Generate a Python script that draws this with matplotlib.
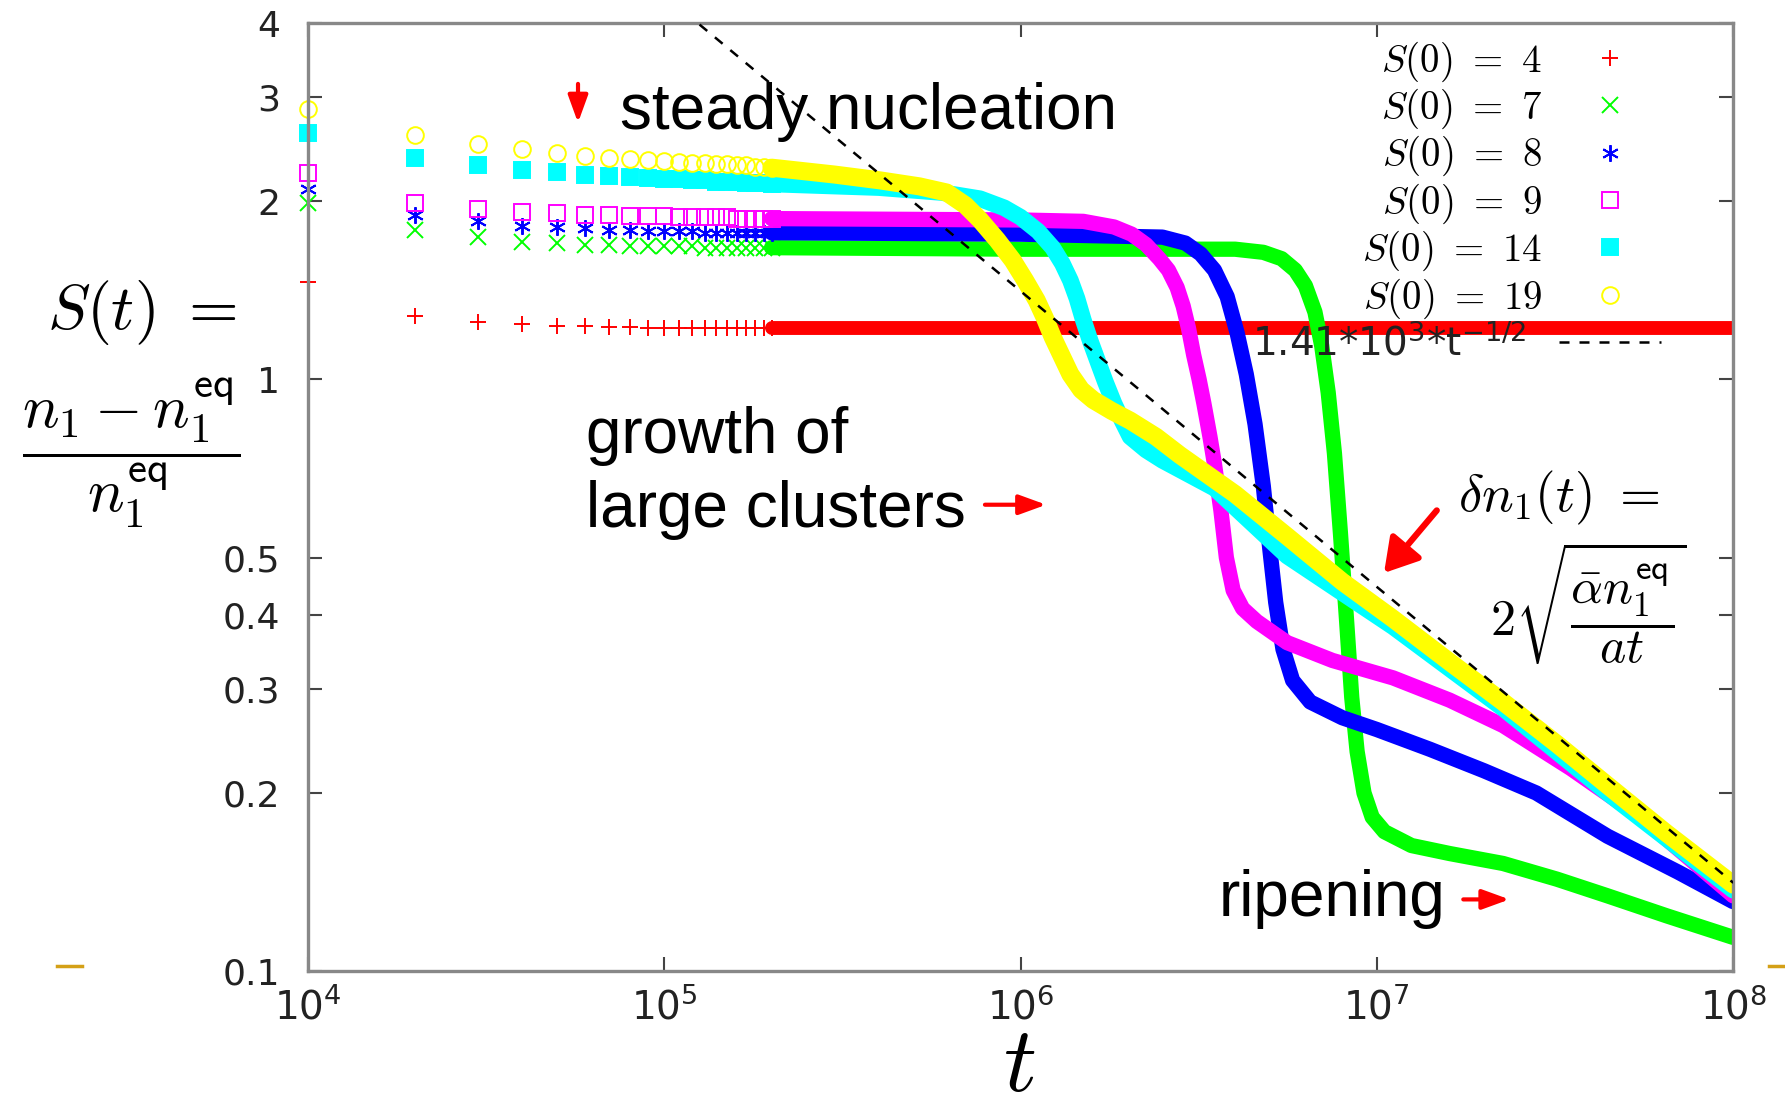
import numpy as np
import matplotlib
matplotlib.use('Agg')
import matplotlib.pyplot as plt
from matplotlib.lines import Line2D

plt.rcParams['mathtext.fontset'] = 'cm'
SANS = ['Liberation Sans', 'DejaVu Sans']

# early, still separable markers: t = 1e4, 2e4, ... 2e5
t_early = [1e4, 2e4, 3e4, 4e4, 5e4, 6e4, 7e4, 8e4, 9e4, 1e5,
           1.1e5, 1.2e5, 1.3e5, 1.4e5, 1.5e5, 1.6e5, 1.7e5, 1.8e5, 1.9e5, 2e5]

s4_early = [1.46, 1.28, 1.25, 1.24, 1.23, 1.23, 1.225, 1.225, 1.22, 1.22,
            1.22, 1.22, 1.22, 1.22, 1.22, 1.22, 1.22, 1.22, 1.22, 1.22]
s7_early = [1.99, 1.79, 1.74, 1.71, 1.70, 1.69, 1.69, 1.68, 1.68, 1.68,
            1.68, 1.68, 1.67, 1.67, 1.67, 1.67, 1.67, 1.67, 1.67, 1.67]
s8_early = [2.10, 1.90, 1.85, 1.82, 1.81, 1.80, 1.79, 1.79, 1.78, 1.78,
            1.78, 1.78, 1.77, 1.77, 1.77, 1.77, 1.77, 1.77, 1.77, 1.77]
s9_early = [2.23, 1.99, 1.94, 1.92, 1.91, 1.90, 1.90, 1.89, 1.89, 1.89,
            1.88, 1.88, 1.88, 1.88, 1.88, 1.87, 1.87, 1.87, 1.87, 1.87]
s14_early = [2.61, 2.37, 2.30, 2.26, 2.24, 2.22, 2.21, 2.20, 2.19, 2.18,
             2.18, 2.17, 2.17, 2.16, 2.16, 2.16, 2.15, 2.15, 2.15, 2.14]
s19_early = [2.87, 2.59, 2.50, 2.45, 2.41, 2.39, 2.37, 2.36, 2.35, 2.34,
             2.33, 2.32, 2.32, 2.31, 2.31, 2.30, 2.30, 2.29, 2.29, 2.28]

# dense part (markers merge into a band)
t4 = [2e5, 1e6, 1e7, 1e8]
s4 = [1.22, 1.22, 1.22, 1.22]

t7 = [2e5, 1e6, 4e6, 4.8e6, 5.4e6, 5.9e6, 6.3e6, 6.7e6, 7.0e6, 7.3e6,
      7.6e6, 7.9e6, 8.2e6, 8.5e6, 8.8e6, 9.2e6, 9.7e6, 1.05e7, 1.25e7, 1.6e7,
      2.26e7, 3.2e7, 4.44e7, 6.5e7, 1e8]
s7 = [1.67, 1.66, 1.66, 1.64, 1.60, 1.53, 1.44, 1.30, 1.14, 0.95,
      0.75, 0.55, 0.40, 0.29, 0.235, 0.20, 0.182, 0.172, 0.163, 0.158,
      0.152, 0.143, 0.134, 0.124, 0.114]

t8 = [2e5, 1e6, 2.5e6, 2.9e6, 3.2e6, 3.5e6, 3.8e6, 4.05e6, 4.3e6, 4.55e6,
      4.8e6, 5.0e6, 5.2e6, 5.45e6, 5.8e6, 6.5e6, 8.0e6, 1.0e7, 1.41e7, 2.0e7,
      2.8e7, 4.44e7, 7e7, 1e8]
s8 = [1.77, 1.76, 1.74, 1.70, 1.63, 1.53, 1.38, 1.20, 1.02, 0.84,
      0.66, 0.52, 0.42, 0.35, 0.31, 0.285, 0.268, 0.256, 0.237, 0.218,
      0.2, 0.169, 0.147, 0.131]

t9 = [2e5, 1e6, 1.5e6, 1.83e6, 2.05e6, 2.25e6, 2.45e6, 2.6e6, 2.75e6, 2.86e6,
      2.96e6, 3.06e6, 3.17e6, 3.27e6, 3.4e6, 3.5e6, 3.65e6, 3.78e6, 3.95e6, 4.2e6,
      4.6e6, 5.6e6, 7.5e6, 1.11e7, 1.6e7, 2.26e7, 3.5e7, 5.5e7, 1e8]
s9 = [1.87, 1.86, 1.85, 1.81, 1.76, 1.69, 1.60, 1.53, 1.43, 1.33,
      1.22, 1.10, 1.0, 0.91, 0.80, 0.72, 0.60, 0.50, 0.44, 0.41,
      0.39, 0.359, 0.335, 0.313, 0.287, 0.26, 0.22, 0.182, 0.134]

t14 = [2e5, 4e5, 6e5, 7.7e5, 9e5, 1.0e6, 1.12e6, 1.23e6, 1.31e6, 1.38e6,
       1.44e6, 1.5e6, 1.57e6, 1.64e6, 1.73e6, 1.83e6, 1.93e6, 2.03e6, 2.25e6, 2.5e6,
       3.5e6, 5.6e6, 1.11e7, 2.26e7, 4.44e7, 1e8]
s14 = [2.14, 2.11, 2.07, 2.02, 1.95, 1.88, 1.78, 1.67, 1.57, 1.47,
       1.37, 1.26, 1.16, 1.08, 0.99, 0.91, 0.85, 0.80, 0.76, 0.73,
       0.655, 0.503, 0.382, 0.278, 0.2, 0.137]

t19 = [2e5, 3e5, 4.03e5, 5.2e5, 6.2e5, 7e5, 7.7e5, 8.6e5, 9.5e5, 1.03e6,
       1.11e6, 1.17e6, 1.23e6, 1.3e6, 1.38e6, 1.48e6, 1.6e6, 1.8e6, 2.03e6, 2.4e6,
       2.8e6, 4e6, 5.6e6, 8e6, 1.11e7, 1.6e7, 2.26e7, 3.2e7, 4.44e7, 6.5e7, 1e8]
s19 = [2.28, 2.22, 2.17, 2.12, 2.07, 1.97, 1.86, 1.72, 1.59, 1.47,
       1.36, 1.27, 1.18, 1.10, 1.02, 0.96, 0.923, 0.885, 0.852, 0.80,
       0.745, 0.64, 0.543, 0.455, 0.394, 0.333, 0.285, 0.242, 0.206, 0.171, 0.14]

# fit 1.41*10^3*t^-1/2, end points
t_fit = [1e5, 1e8]
s_fit = [4.46, 0.141]

labels = [r'$S(0)\ =\ 4$', r'$S(0)\ =\ 7$', r'$S(0)\ =\ 8$',
          r'$S(0)\ =\ 9$', r'$S(0)\ =\ 14$', r'$S(0)\ =\ 19$']
fit_label = r'1.41*10$^{3}$*t$^{-1/2}$  '

y_ticks = [0.1, 0.2, 0.3, 0.4, 0.5, 1, 2, 3, 4]
y_tick_labels = ['0.1', '0.2', '0.3', '0.4', '0.5', '1', '2', '3', '4']
x_ticks = [1e4, 1e5, 1e6, 1e7, 1e8]
x_tick_labels = [r'$\mathdefault{10^{4}}$', r'$\mathdefault{10^{5}}$', r'$\mathdefault{10^{6}}$',
                 r'$\mathdefault{10^{7}}$', r'$\mathdefault{10^{8}}$']

early = [s4_early, s7_early, s8_early, s9_early, s14_early, s19_early]
bands = [(t4, s4), (t7, s7), (t8, s8), (t9, s9), (t14, s14), (t19, s19)]
colors = ['#ff0000', '#00ff00', '#0000ff', '#ff00ff', '#00ffff', '#ffff00']
markers = ['+', 'x', (6, 2, 0), 's', 's', 'o']
filled = [True, True, True, False, True, False]
band_lw = [10, 11, 11, 11, 12, 13]

fig = plt.figure(figsize=(17.85, 11.06), dpi=100)
ax = fig.add_axes([0.1725, 0.122, 0.7985, 0.857])

for i in range(6):
    c = colors[i]
    tb, sb = bands[i]
    ax.plot(tb, sb, '-', color=c, lw=band_lw[i], solid_capstyle='round',
            solid_joinstyle='round', zorder=2 + i * 0.1)
    ax.plot(t_early, early[i], ls='none', marker=markers[i], ms=12, mew=1.4,
            mec=c, mfc=c if filled[i] else 'none', zorder=2 + i * 0.1, clip_on=False)

ax.plot(t_fit, s_fit, color='black', lw=1.8, dashes=(4, 4), zorder=5)

ax.set_xscale('log')
ax.set_yscale('log')
ax.set_xlim(1e4, 1e8)
ax.set_ylim(0.1, 4)
ax.set_xticks(x_ticks)
ax.set_xticklabels(x_tick_labels)
ax.set_yticks(y_ticks)
ax.set_yticklabels(y_tick_labels)
ax.minorticks_off()
ax.tick_params(axis='both', which='major', direction='in', length=10, width=1.5,
               color='#444444', labelcolor='#222222', top=True, right=True)
ax.tick_params(axis='y', pad=20, labelsize=26)
ax.tick_params(axis='x', pad=12, labelsize=28)
for sp in ax.spines.values():
    sp.set_color('#888888')
    sp.set_linewidth(2.4)

# legend, gnuplot style: label on the left, sample on the right
handles = []
for i in range(6):
    handles.append(Line2D([], [], ls='none', marker=markers[i], ms=12, mew=1.4,
                          mec=colors[i], mfc=colors[i] if filled[i] else 'none'))
handles.append(Line2D([], [], color='black', lw=1.8, dashes=(4, 4)))
leg = ax.legend(handles, labels + [fit_label], loc='upper right',
                bbox_to_anchor=(0.949, 0.983), frameon=False, markerfirst=False,
                fontsize=28, handlelength=2.6, handletextpad=0.45,
                labelspacing=0.08, borderpad=0, borderaxespad=0)
leg.set_zorder(6)
fit_txt = leg.get_texts()[6]
fit_txt.set_fontsize(28)
fit_txt.set_math_fontfamily('dejavusans')
fit_txt.set_color('#222222')

# annotations
arrow_kw = dict(arrowstyle='-|>, head_length=0.55, head_width=0.2', color='red',
                lw=3.0, mutation_scale=30, shrinkA=0, shrinkB=0)
ax.annotate('', xy=(0.1895, 0.895), xytext=(0.1895, 0.936), xycoords='axes fraction',
            arrowprops=arrow_kw)
ax.text(0.219, 0.888, 'steady nucleation', transform=ax.transAxes, fontsize=46,
        family=SANS, ha='left', va='baseline')
ax.text(0.195, 0.547, 'growth of', transform=ax.transAxes, fontsize=46,
        family=SANS, ha='left', va='baseline')
ax.text(0.195, 0.468, 'large clusters', transform=ax.transAxes, fontsize=46,
        family=SANS, ha='left', va='baseline')
ax.annotate('', xy=(0.518, 0.492), xytext=(0.475, 0.492), xycoords='axes fraction',
            arrowprops=arrow_kw)
ax.text(0.639, 0.0576, 'ripening', transform=ax.transAxes, fontsize=46,
        family=SANS, ha='left', va='baseline')
ax.annotate('', xy=(0.843, 0.0756), xytext=(0.8106, 0.0756), xycoords='axes fraction',
            arrowprops=arrow_kw)
ax.text(0.8066, 0.4994, r'$\delta n_1(t)\ =$', transform=ax.transAxes, fontsize=38,
        ha='left', va='center')
ax.text(0.829, 0.3878, r'$2\sqrt{\dfrac{\bar{\alpha} n_1^{\mathsf{eq}}}{at}}$',
        transform=ax.transAxes, fontsize=36, ha='left', va='center')
ax.annotate('', xy=(0.755, 0.420), xytext=(0.792, 0.486), xycoords='axes fraction',
            arrowprops=dict(arrowstyle='-|>, head_length=0.5, head_width=0.3', color='red',
                            lw=4.5, mutation_scale=40, shrinkA=0, shrinkB=0),
            zorder=7)

# axis labels
fig.text(0.0797, 0.717, r'$S(t)\ =$', fontsize=46, ha='center', va='center')
fig.text(0.0733, 0.591, r'$\dfrac{n_1 - n_1^{\mathsf{eq}}}{n_1^{\mathsf{eq}}}$',
         fontsize=44, ha='center', va='center')
fig.text(0.5708, 0.014, r'$t$', fontsize=66, ha='center', va='baseline')

# slide decorations
fig.add_artist(Line2D([0.032, 0.046], [0.1265, 0.1265], color='#d4a017', lw=2.5))
fig.add_artist(Line2D([0.991, 1.0], [0.1265, 0.1265], color='#d4a017', lw=2.5))

fig.savefig('out.png', dpi=100, facecolor='white')
